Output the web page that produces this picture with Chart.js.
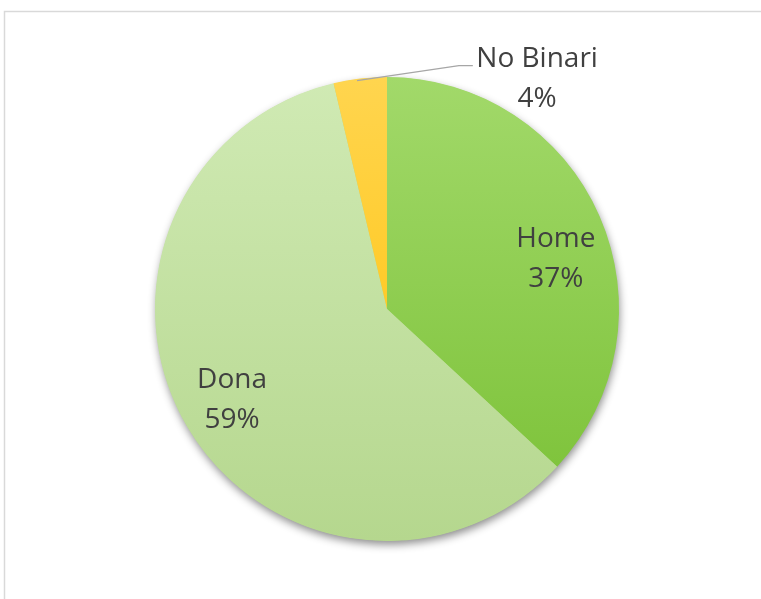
<!DOCTYPE html>
<html><head><meta charset="utf-8">
<script src="https://cdn.jsdelivr.net/npm/chart.js@4"></script>
<style>html,body{margin:0;padding:0;background:#fff;}#wrap{width:761px;height:599px;position:relative;}</style>
</head><body><div id="wrap"><canvas id="c" width="761" height="599"></canvas></div>
<script>
const categories = ["Home", "Dona", "No Binari"];
const values = [36.9, 59.4, 3.7];
const percentLabels = ["37%", "59%", "4%"];
const colorsTop = ["#a2d96a", "#d0eab4", "#ffd54f"];
const colorsBottom = ["#79c034", "#b5d78e", "#ffc000"];

function grad(ctx, i) {
  const chart = ctx.chart;
  const a = chart.chartArea;
  if (!a) return colorsTop[i];
  const g = chart.ctx.createLinearGradient(0, a.top, 0, a.bottom);
  g.addColorStop(0, colorsTop[i]);
  g.addColorStop(1, colorsBottom[i]);
  return g;
}

const framePlugin = {
  id: 'frame',
  beforeDraw(chart) {
    const c = chart.ctx;
    c.save();
    c.strokeStyle = '#d9d9d9';
    c.lineWidth = 1.5;
    c.strokeRect(4.5, 11.5, 900, 800);
    c.restore();
  },
  beforeDatasetsDraw(chart) {
    const arc = chart.getDatasetMeta(0).data[0];
    const c = chart.ctx;
    c.save();
    c.shadowColor = 'rgba(0,0,0,0.45)';
    c.shadowBlur = 9;
    c.shadowOffsetX = 1;
    c.shadowOffsetY = 4;
    c.fillStyle = '#b5d78e';
    c.beginPath();
    c.arc(arc.x, arc.y, arc.outerRadius - 0.5, 0, Math.PI * 2);
    c.fill();
    c.restore();
  }
};

// label baseline positions relative to centre, in units of radius
const labelPos = [[0.728, -0.267], [-0.668, 0.341], [0.647, -1.043]];

const labelPlugin = {
  id: 'labels',
  afterDatasetsDraw(chart) {
    const meta = chart.getDatasetMeta(0);
    const arc0 = meta.data[0];
    const cx = arc0.x, cy = arc0.y, r = arc0.outerRadius;
    const c = chart.ctx;
    c.save();
    // leader line for small slice
    const a2 = meta.data[2];
    const mid = (a2.startAngle + a2.endAngle) / 2;
    const sx = cx + Math.cos(mid) * r, sy = cy + Math.sin(mid) * r;
    c.strokeStyle = '#a6a6a6';
    c.lineWidth = 1.3;
    c.beginPath();
    c.moveTo(sx - 3, sy + 2);
    c.lineTo(cx + 0.31 * r, cy - 1.049 * r);
    c.lineTo(cx + 0.37 * r, cy - 1.049 * r);
    c.stroke();

    c.fillStyle = '#404040';
    c.font = '28px "Open Sans", sans-serif';
    c.textAlign = 'center';
    c.textBaseline = 'alphabetic';
    categories.forEach((name, i) => {
      const x = cx + labelPos[i][0] * r;
      const y = cy + labelPos[i][1] * r;
      c.fillText(name, x, y);
      c.fillText(percentLabels[i], x, y + 40);
    });
    c.restore();
  }
};

new Chart(document.getElementById('c'), {
  type: 'pie',
  data: {
    labels: categories,
    datasets: [{
      data: values,
      backgroundColor: (ctx) => grad(ctx, ctx.dataIndex),
      borderWidth: 0
    }]
  },
  options: {
    responsive: false,
    animation: false,
    layout: { padding: { top: 77, bottom: 58, left: 155, right: 142 } },
    plugins: { legend: { display: false }, tooltip: { enabled: false } }
  },
  plugins: [framePlugin, labelPlugin]
});
</script></body></html>
